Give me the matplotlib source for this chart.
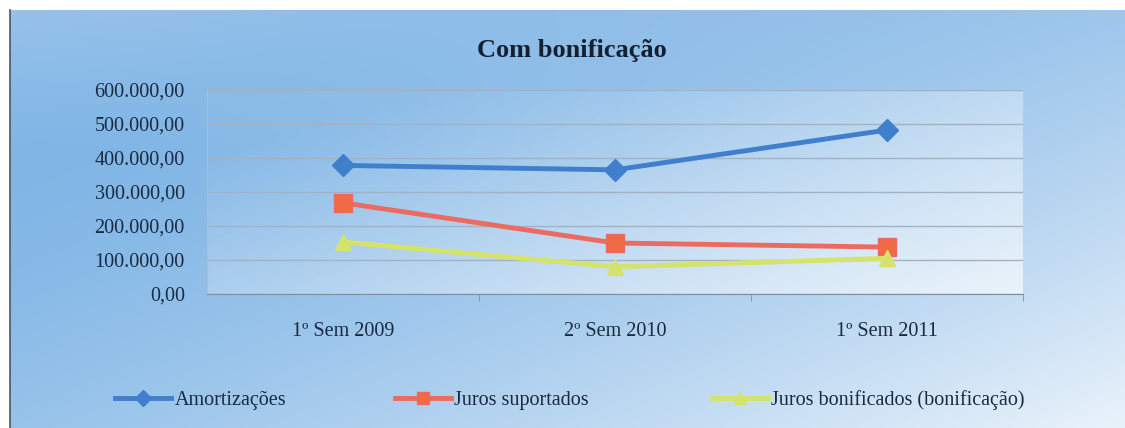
import numpy as np
import matplotlib
matplotlib.use("Agg")
import matplotlib.pyplot as plt
from matplotlib.ticker import FuncFormatter, FixedLocator

categories = ["1º Sem 2009", "2º Sem 2010", "1º Sem 2011"]
amortizacoes = [378000, 365000, 482000]
juros_suportados = [268000, 150000, 138000]
juros_bonificados = [153000, 80000, 105000]
yticks = [0, 100000, 200000, 300000, 400000, 500000, 600000]

plt.rcParams['font.family'] = ['Liberation Serif', 'DejaVu Serif']

fig = plt.figure(figsize=(11.25, 4.28), dpi=100)

# background gradient
bg = fig.add_axes([0, 0, 1, 1], zorder=0)
bg.axis('off')
h, w = 200, 400
yy, xx = np.mgrid[0:1:h*1j, 0:1:w*1j]
t = np.clip(0.6 * xx + 0.55 * yy - 0.2, 0, 1) ** 1.5
top_light = np.clip(0.35 - yy, 0, 1) * 0.6 * (1 - xx)
c0 = np.array([0.50, 0.71, 0.90])
c1 = np.array([0.95, 0.97, 0.99])
tt = np.clip(t + top_light, 0, 1)
img = c0[None, None, :] * (1 - tt[..., None]) + c1[None, None, :] * tt[..., None]
bg.imshow(img, aspect='auto', extent=[0, 1, 0, 1], origin='upper')
bg.set_xlim(0, 1); bg.set_ylim(0, 1)
bg.axhspan(1 - 10 / 428, 1, color='white', lw=0)
bg.axvspan(0, 10 / 1125, color='white', lw=0)
bg.plot([10 / 1125, 10 / 1125], [0.0, 1 - 10 / 428], color='#555555', lw=1.2)

ax = fig.add_axes([207 / 1125, 0.313, 816 / 1125, 0.477], zorder=1)
ax.patch.set_alpha(0.0)
# plot-area whitening overlay
ph, pw = 100, 200
py, px = np.mgrid[0:1:ph*1j, 0:1:pw*1j]
a = np.clip(0.15 + 0.55 * px + 0.45 * py - 0.25, 0.05, 0.9)
ov = np.ones((ph, pw, 4)); ov[..., 3] = a * 0.7
ax.imshow(ov, aspect='auto', extent=[-0.5, 2.5, 0, 600000], origin='upper', zorder=0)

x = np.arange(len(categories))
l1, = ax.plot(x, amortizacoes, color='#3f7fcc', lw=3.5, marker='D', ms=11, label='Amortizações', zorder=3)
l2, = ax.plot(x, juros_suportados, color='#ec6b60', lw=3.5, marker='s', ms=13, mfc='#f06a45', label='Juros suportados', zorder=3)
l3, = ax.plot(x, juros_bonificados, color='#d6e36a', lw=3.5, marker='^', ms=12, label='Juros bonificados (bonificação)', zorder=3)

ax.set_xlim(-0.5, 2.5)
ax.set_ylim(0, 600000)
ax.set_yticks(yticks)
ax.yaxis.set_major_formatter(FuncFormatter(lambda v, p: f"{v:,.2f}".replace(",", "X").replace(".", ",").replace("X", ".")))
ax.set_xticks(x)
ax.set_xticklabels(categories)
ax.xaxis.set_minor_locator(FixedLocator([0.5, 1.5, 2.5]))
ax.grid(axis='y', color='#a3b2c2', lw=1.0)
ax.set_axisbelow(True)
for s in ['top', 'right']:
    ax.spines[s].set_visible(False)
ax.spines['left'].set_color('#b0bccb')
ax.spines['bottom'].set_color('#7f8fa0')
ax.tick_params(axis='y', length=0, labelsize=14.5, colors='#1a2a40', pad=16)
ax.tick_params(axis='x', which='major', length=0, labelsize=14.5, colors='#1a2a40', pad=20)
ax.tick_params(axis='x', which='minor', length=5, color='#7f8fa0', direction='out')

fig.text(572 / 1125, 1 - 50 / 428, "Com bonificação", fontsize=19, fontweight='bold',
         color='#142030', ha='center', va='center')

for line, xs in [(l1, 115), (l2, 395), (l3, 712)]:
    fig.legend(handles=[line], loc='center left', bbox_to_anchor=(xs / 1125, 1 - 400 / 428),
               frameon=False, fontsize=14.5, handlelength=2.8, handletextpad=0.15,
               borderpad=0, borderaxespad=0, markerscale=0.7, labelcolor='#1a2a40')

fig.savefig("out.png", dpi=100)
